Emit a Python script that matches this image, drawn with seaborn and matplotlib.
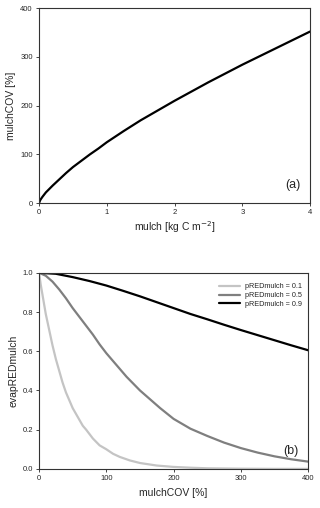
import numpy as np
import pandas as pd
import matplotlib
matplotlib.use("Agg")
import matplotlib.pyplot as plt
import seaborn as sns

# panel (a): mulch vs mulchCOV
mulch = [0, 0.01, 0.02, 0.05, 0.1, 0.15, 0.2, 0.3, 0.4, 0.5, 0.625, 0.75, 0.875, 1.0, 1.25, 1.5, 1.75,
         2.0, 2.25, 2.5, 2.75, 3.0, 3.25, 3.5, 3.75, 4.0]
mulch_cov = [0, 4, 7, 13, 22, 29, 36, 49, 62, 74, 87, 100, 112, 125, 148, 170, 190,
             210, 229, 248, 266, 284, 301, 318, 335, 352]

# panel (b): evapREDmulch vs mulchCOV for three pREDmulch values
cov_01 = [0, 2.5, 5, 10, 15, 20, 25, 30, 35, 40, 45, 50, 55, 60, 65, 70, 80, 90, 100, 110, 120, 135,
          150, 175, 200, 225, 250, 300, 350, 400]
red_01 = [1.0, 0.94, 0.89, 0.79, 0.71, 0.63, 0.56, 0.50, 0.44, 0.39, 0.35, 0.31, 0.28, 0.25, 0.22,
          0.20, 0.155, 0.12, 0.10, 0.077, 0.061, 0.043, 0.030, 0.017, 0.010, 0.006, 0.003, 0.001, 0.0, 0.0]
cov_05 = [0, 10, 20, 30, 40, 50, 60, 70, 80, 90, 100, 110, 120, 130, 140, 150, 165, 180, 200, 225,
          250, 275, 300, 325, 350, 375, 400]
red_05 = [1.0, 0.985, 0.955, 0.915, 0.87, 0.82, 0.775, 0.73, 0.685, 0.635, 0.59, 0.55, 0.51, 0.47,
          0.435, 0.40, 0.355, 0.31, 0.255, 0.205, 0.168, 0.134, 0.106, 0.083, 0.064, 0.049, 0.037]
cov_09 = [0, 25, 50, 75, 100, 125, 150, 175, 200, 225, 250, 275, 300, 325, 350, 375, 400]
red_09 = [1.0, 0.995, 0.978, 0.958, 0.935, 0.908, 0.88, 0.85, 0.82, 0.79, 0.763, 0.735, 0.708,
          0.682, 0.656, 0.63, 0.605]
labels = ["pREDmulch = 0.1", "pREDmulch = 0.5", "pREDmulch = 0.9"]
colors = ["#c4c4c4", "#7f7f7f", "#000000"]

sns.set_style("ticks")
plt.rcParams['font.family'] = ['Liberation Sans', 'DejaVu Sans']

fig = plt.figure(figsize=(3.2, 5.08), dpi=100)
ax1 = fig.add_axes([0.122, 0.600, 0.847, 0.384])
ax2 = fig.add_axes([0.122, 0.077, 0.841, 0.386])

df_a = pd.DataFrame({"mulch": mulch, "cov": mulch_cov})
sns.lineplot(data=df_a, x="mulch", y="cov", color="black", lw=1.6, ax=ax1)
ax1.set_xlim(0, 4)
ax1.set_ylim(0, 400)
ax1.set_xticks([0, 1, 2, 3, 4])
ax1.set_yticks([0, 100, 200, 300, 400])
ax1.set_xlabel("mulch [kg C m$^{-2}$]", fontsize=7.5, labelpad=2)
ax1.set_ylabel("mulchCOV [%]", fontsize=7.5, labelpad=3)
ax1.text(0.965, 0.06, "(a)", transform=ax1.transAxes, ha="right", va="bottom", fontsize=9)

df_b = pd.DataFrame({
    "cov": cov_01 + cov_05 + cov_09,
    "red": red_01 + red_05 + red_09,
    "p": [labels[0]] * len(cov_01) + [labels[1]] * len(cov_05) + [labels[2]] * len(cov_09),
})
sns.lineplot(data=df_b, x="cov", y="red", hue="p", palette=colors, lw=1.6, ax=ax2)
ax2.set_xlim(0, 400)
ax2.set_ylim(0, 1.0)
ax2.set_xticks([0, 100, 200, 300, 400])
ax2.set_yticks([0, 0.2, 0.4, 0.6, 0.8, 1.0])
ax2.set_yticklabels(["0.0", "0.2", "0.4", "0.6", "0.8", "1.0"])
ax2.set_xlabel("mulchCOV [%]", fontsize=7.5, labelpad=4)
ax2.set_ylabel("evapREDmulch", fontsize=7.5, labelpad=3)
ax2.text(0.965, 0.06, "(b)", transform=ax2.transAxes, ha="right", va="bottom", fontsize=9)
leg = ax2.legend(title=None, loc="upper right", frameon=False, fontsize=5.2,
                 handlelength=3.0, handletextpad=0.6, labelspacing=0.25,
                 bbox_to_anchor=(1.0, 0.98))

for ax in (ax1, ax2):
    ax.tick_params(axis="both", labelsize=5.5, length=2.5, width=0.6, pad=2, direction="out")
    for s in ax.spines.values():
        s.set_visible(True)
        s.set_linewidth(0.8)
        s.set_color("#333333")

fig.savefig("out.png", dpi=100)
